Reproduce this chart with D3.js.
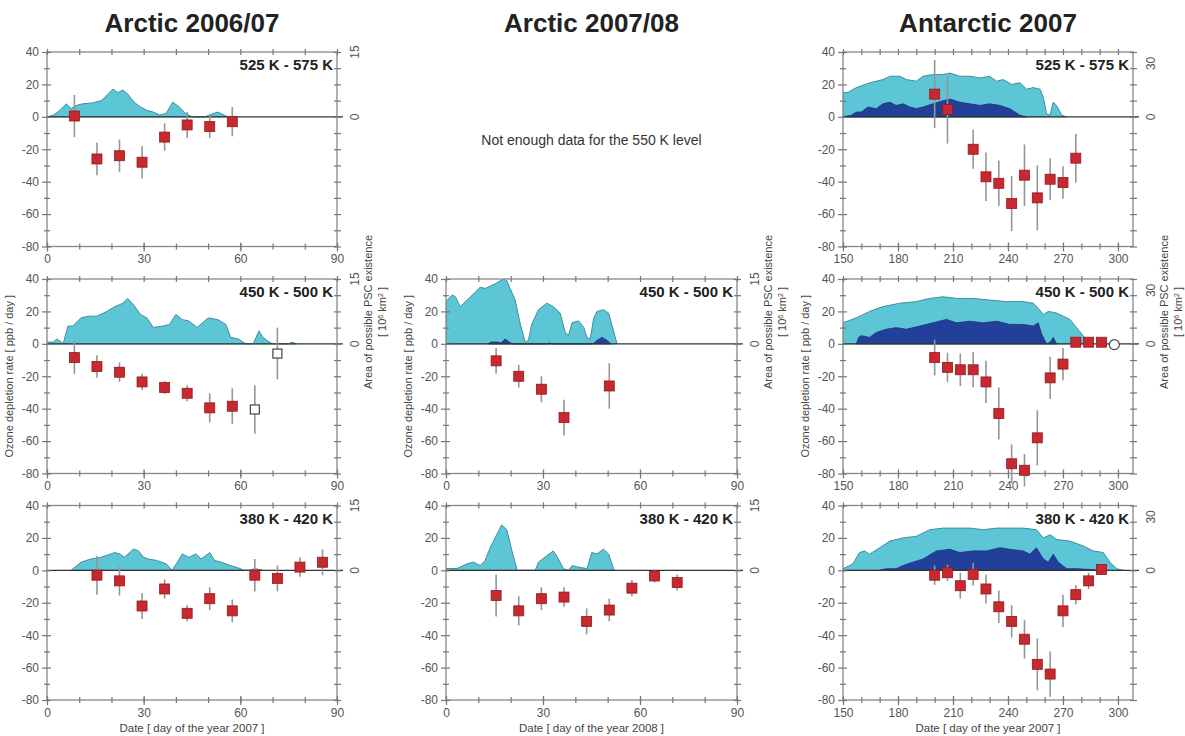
<!DOCTYPE html>
<html>
<head>
<meta charset="utf-8">
<script src="https://cdn.jsdelivr.net/npm/d3@7"></script>
<style>
  body { margin: 0; background: #fff; }
  svg text { font-family: "Liberation Sans", Arial, sans-serif; }
</style>
</head>
<body>
<svg id="chart" width="1185" height="736"></svg>
<script>
// PSC area [10^6 km²] as [day, area]
const arc0607_525_psc = [[0,0],[2,0.4],[4,1.5],[6,3.0],[7.5,1.9],[9,2.6],[11,3.0],[14,3.2],[17,3.8],[19,5.3],[20.5,6.4],[22,5.6],[23.5,6.2],[25,5.3],[27,3.4],[29,2.3],[31,1.5],[33,1.1],[35,0.4],[37,0.8],[39,3.4],[41,2.3],[43,0.8],[45,0],[49,0],[51,0.6],[53,1.1],[55,0.4],[56,0]];
const arc0607_450_psc = [[0,0.4],[2,0.4],[3,1.1],[4.5,0.4],[5,0],[6.5,4.1],[8,4.1],[10.5,6.0],[13,6.4],[15.5,6.4],[18.6,7.5],[21,8.6],[23.6,9.4],[25,10.5],[26.9,9.0],[29,6.8],[31,6.0],[33,3.8],[36,4.1],[38,4.5],[40,6.8],[42,5.6],[44,5.3],[46.6,3.8],[50,6.0],[53,5.6],[55.5,4.5],[57,1.5],[59.5,1.1],[61.6,0],[64,0],[65.8,3.0],[67,1.5],[69,0.4],[70,0],[75,0],[76,0.4],[77.5,0]];
const arc0607_380_psc = [[7.5,0],[10.6,1.9],[13.5,2.6],[16.7,3.0],[19.8,3.8],[21,4.1],[22.7,3.8],[24,3.0],[26.8,4.9],[28.4,4.5],[30,3.0],[31.5,2.6],[34,2.3],[37,1.5],[38.8,0],[40.5,1.9],[42,3.8],[44,3.0],[46.3,3.8],[47.8,2.6],[50.5,4.1],[52,2.3],[54,1.9],[57,1.1],[60,0.4],[61,0],[63,0],[64.5,0.4],[67,0]];

const arc0708_450_psc = [[0,9.8],[1.9,11.3],[2.9,10.9],[4.4,8.6],[6.5,10.1],[10.6,13.1],[12.1,12.8],[15.2,13.9],[17.8,15],[18.8,14.6],[21.4,10.1],[23,4.5],[24.5,0.4],[25.5,0.8],[26.5,4.5],[28.6,7.9],[31.2,9.4],[33.2,8.6],[35.3,7.1],[36.9,2.6],[37.9,1.9],[39,4.9],[41,5.3],[42.6,3.8],[43.6,1.5],[44.6,1.1],[45.7,6.0],[46.7,7.5],[48.7,7.9],[50.3,7.1],[51.8,3.0],[52.9,0]];
const arc0708_450_dark = [[13,0],[14,0.4],[16,0.4],[17,0.2],[18.3,1.1],[19.5,0.4],[20.5,0],[31,0],[32,0.2],[33,0],[45.5,0],[46.7,0.8],[48.2,1.5],[49.8,0.8],[51,0]];
const arc0708_380_psc = [[0,0.4],[3.4,0.4],[6.5,1.5],[8.5,1.9],[10.6,1.1],[12.1,2.3],[13.7,5.3],[15.7,8.3],[17.2,10.5],[18.8,9.4],[20.4,4.5],[22,0],[27.6,0],[28.6,1.9],[31.2,3.4],[33.2,4.5],[34.8,2.6],[36.3,0.4],[37.9,0],[39,1.1],[40.5,0.8],[43.6,0.4],[45.1,4.1],[46.7,3.8],[48.7,4.9],[50.3,3.8],[51.8,0.4],[52.3,0]];

const ant07_525_psc = [[150,13.5],[152.7,13.7],[157.3,16.4],[164.5,19.1],[171.8,20.9],[175.5,22.8],[181,22.8],[184.6,20.9],[190,20.0],[193.7,22.8],[199.1,23.7],[204.6,23.7],[208.3,24.6],[213.7,22.8],[219.2,22.8],[224.6,21.8],[230,22.8],[233.8,20.0],[237.4,20.9],[242,18.2],[246.5,19.1],[250.2,15.5],[253.8,16.4],[257.5,15.5],[259.3,10.9],[261,1.8],[262.9,0.9],[264.7,8.2],[266.5,6.4],[269.3,0.9],[272,0]];
const ant07_525_dark = [[150,0],[154.5,0.9],[157.3,2.7],[160,2.7],[163.6,5.5],[168.2,4.6],[171.8,7.3],[175.5,8.2],[179,6.4],[182.7,7.3],[186.4,5.5],[190,4.6],[193.7,5.5],[199.1,7.3],[204.6,9.1],[208.3,10.0],[213.7,8.2],[219.2,7.3],[224.6,6.4],[230,7.3],[235.6,6.4],[241,4.6],[246.5,0.9],[250.2,0]];
const ant07_450_psc = [[150,11.8],[157.3,14.6],[164.5,18.2],[171.8,20.9],[181,22.8],[190,23.7],[197.3,25.5],[204.6,26.4],[212,25.5],[221,25.5],[230,24.6],[239.2,23.7],[248.3,23.7],[253.8,22.8],[256.5,20.0],[259.3,16.4],[262,18.2],[266.5,17.3],[270.2,15.5],[273.8,13.7],[277.4,9.1],[281,4.6],[283.8,0.9],[285.7,0]];
const ant07_450_dark = [[157.3,0],[158.5,3.6],[160,4.6],[164.5,3.6],[168.2,6.4],[173.6,8.2],[179,9.1],[184.6,8.2],[191.9,10.0],[199.1,11.8],[206.4,13.7],[212,11.8],[219.2,12.7],[226.5,11.8],[233.8,12.7],[241,10.9],[248.3,10.9],[253.8,10.0],[256.5,11.8],[258.4,5.5],[261,0],[263,0.9],[264.7,3.6],[266.5,0]];
const ant07_380_psc = [[150,0.9],[155.4,3.6],[159,10.0],[161.8,10.9],[164.5,9.1],[170,12.7],[175.5,16.4],[182.7,18.2],[190,19.1],[197.3,22.8],[204.6,23.7],[212,23.7],[219.2,23.7],[226.5,22.8],[233.8,23.7],[241,23.7],[248.3,23.7],[255.5,22.8],[259.3,18.2],[263,20.0],[266.5,17.3],[273.8,16.4],[281,13.7],[286.5,10.9],[292,10.0],[295.6,4.6],[299.3,0.9],[302.9,0]];
const ant07_380_dark = [[170,0],[173.6,0.9],[179,0.9],[182.7,2.7],[188.2,4.6],[193.7,6.4],[201,10.9],[208.3,11.8],[213.7,10.0],[221,10.9],[228.3,10.9],[235.6,12.7],[241,11.8],[248.3,10.9],[252,9.1],[255.5,12.7],[259.3,6.4],[262,4.6],[264.7,9.1],[267.5,4.6],[272,0.9],[277.4,0.9],[284.7,0.5],[288.3,0]];

// Ozone depletion rates as [day, rate ppb/day, error]
const arc0607_525_rate = [[8.5,0.5,13],[15.5,-26,10],[22.5,-24,10],[29.5,-28,10],[36.5,-12.5,8.5],[43.5,-5,8],[50.5,-6,7],[57.5,-3,9]];
const arc0607_450_rate = [[8.5,-8.5,10],[15.5,-14,7],[22.5,-17.5,6],[29.5,-23.5,5],[36.5,-27,4],[43.5,-30.5,5],[50.5,-39.5,9],[57.5,-38.5,11]];
const arc0607_450_open = [[64.5,-40.5,15],[71.5,-6,16]];
const arc0607_380_rate = [[15.5,-3,12],[22.5,-6.5,9],[29.5,-22,8],[36.5,-11.5,6],[43.5,-26.5,5],[50.5,-17.5,7],[57.5,-25,7],[64.5,-3,10],[71.5,-5,8],[78.5,2,6],[85.5,5,8]];
const arc0708_450_rate = [[15.5,-10.5,8],[22.5,-20,7],[29.5,-28,8],[36.5,-45.5,11],[50.5,-26,14]];
const arc0708_380_rate = [[15.5,-15.5,13],[22.5,-25,9],[29.5,-17.5,7],[36.5,-16.5,6],[43.5,-31.5,8],[50.5,-24.5,7],[57.5,-11,5],[64.5,-3.5,4],[71.5,-7.5,5]];
const ant07_525_rate = [[200,14,21],[207,4.5,21],[221,-20,12],[228,-37,15],[235,-41,14],[242,-53.5,17],[249,-36,19],[256,-50,20],[263,-38.5,13],[270,-40.5,10],[277,-25.5,15]];
const ant07_450_rate = [[200,-8.5,11],[207,-14.5,9],[214,-16,10],[221,-16,11],[228,-23.5,13],[235,-43,16],[242,-74,12],[249,-78,10],[256,-58,17],[263,-21,13],[270,-12.5,10],[277,1,2],[284,1,2],[291,1,2]];
const ant07_450_open = [[298,-0.5,2]];
const ant07_380_rate = [[200,-3,6],[207,-1.5,5],[214,-9.5,8],[221,-2.5,7],[228,-11.5,9],[235,-22.5,10],[242,-31.5,10],[249,-42.5,12],[256,-58,16],[263,-64,14],[270,-25,10],[277,-15,6],[284,-6.5,5],[291,0.5,3]];

// axis ticks and labels
const rateMajor = [-80, -60, -40, -20, 0, 20, 40];
const rateMinor = [-70, -50, -30, -10, 10, 30];
const colTitles = ['Arctic 2006/07', 'Arctic 2007/08', 'Antarctic 2007'];
const dateTitles = ['Date [ day of the year 2007 ]', 'Date [ day of the year 2008 ]', 'Date [ day of the year 2007 ]'];
const levelNames = ['525 K - 575 K', '450 K - 500 K', '380 K - 420 K'];
const arcticDayTicks = [0, 30, 60, 90];
const antarcticDayTicks = [150, 180, 210, 240, 270, 300];

const LIGHT = '#5cc6d7', LIGHT_EDGE = '#3f8e9c', DARK = '#22409a', RED = '#c8282e';

const svg = d3.select('#chart');

const cols = [
  { x0: 47,  x1: 337,  domain: [0, 90],      major: arcticDayTicks,    minor: d3.range(0, 91, 10),    pscMax: 15,   pscLabels: [0, 15] },
  { x0: 446, x1: 737,  domain: [0, 90],      major: arcticDayTicks,    minor: d3.range(0, 91, 10),    pscMax: 15,   pscLabels: [0, 15] },
  { x0: 843, x1: 1133, domain: [150, 308.2], major: antarcticDayTicks, minor: d3.range(150, 301, 10), pscMax: 36.4, pscLabels: [0, 30] }
];
const rowTops = [52, 279, 505.5];
const ph = 194.5;

const panels = [
  { col: 0, row: 0, light: arc0607_525_psc, dark: null, rate: arc0607_525_rate, open: [] },
  { col: 0, row: 1, light: arc0607_450_psc, dark: null, rate: arc0607_450_rate, open: arc0607_450_open, openShape: 'square' },
  { col: 0, row: 2, light: arc0607_380_psc, dark: null, rate: arc0607_380_rate, open: [] },
  { col: 1, row: 1, light: arc0708_450_psc, dark: arc0708_450_dark, rate: arc0708_450_rate, open: [] },
  { col: 1, row: 2, light: arc0708_380_psc, dark: null, rate: arc0708_380_rate, open: [] },
  { col: 2, row: 0, light: ant07_525_psc, dark: ant07_525_dark, rate: ant07_525_rate, open: [] },
  { col: 2, row: 1, light: ant07_450_psc, dark: ant07_450_dark, rate: ant07_450_rate, open: ant07_450_open, openShape: 'circle' },
  { col: 2, row: 2, light: ant07_380_psc, dark: ant07_380_dark, rate: ant07_380_rate, open: [] }
];

// tick helper: outward + inward ticks crossing the frame line
function tickAxis(g, axisFn, scale, values, outer, inner, labels) {
  const a = g.append('g');
  a.call(axisFn(scale).tickValues(values).tickSize(outer).tickSizeOuter(0)
    .tickFormat(labels ? d => String(d) : ''));
  const b = g.append('g');
  b.call(axisFn(scale).tickValues(values).tickSize(-inner).tickSizeOuter(0).tickFormat(''));
  [a, b].forEach(s => {
    s.select('.domain').remove();
    s.selectAll('line').attr('stroke', '#777').attr('stroke-width', 1.2);
    s.selectAll('text').attr('fill', '#555').style('font-size', '12px');
  });
  return a;
}

function drawPanel(p, i) {
  const c = cols[p.col];
  const top = rowTops[p.row];
  const x = d3.scaleLinear().domain(c.domain).range([c.x0, c.x1]);
  const y = d3.scaleLinear().domain([-80, 40]).range([top + ph, top]);
  const y2 = d3.scaleLinear().domain([0, c.pscMax]).range([y(0), y(40)]);

  const g = svg.append('g');
  const clipId = 'clip' + i;
  g.append('clipPath').attr('id', clipId).append('rect')
    .attr('x', c.x0).attr('y', top).attr('width', c.x1 - c.x0).attr('height', ph);

  const area = d3.area().x(d => x(d[0])).y0(y2(0)).y1(d => y2(d[1]));
  const plot = g.append('g').attr('clip-path', `url(#${clipId})`);
  plot.append('path').datum(p.light).attr('d', area)
    .attr('fill', LIGHT).attr('stroke', LIGHT_EDGE).attr('stroke-width', 1);
  if (p.dark) {
    plot.append('path').datum(p.dark).attr('d', area)
      .attr('fill', DARK).attr('stroke', '#1a2f78').attr('stroke-width', 0.8);
  }

  // zero line
  g.append('line').attr('x1', c.x0).attr('x2', c.x1 + 6)
    .attr('y1', y(0)).attr('y2', y(0)).attr('stroke', '#333').attr('stroke-width', 1.1);

  // frame
  g.append('rect').attr('x', c.x0).attr('y', top).attr('width', c.x1 - c.x0).attr('height', ph)
    .attr('fill', 'none').attr('stroke', '#888').attr('stroke-width', 1.3);

  // axes
  tickAxis(g.append('g').attr('transform', `translate(${c.x0},0)`), d3.axisLeft, y, rateMajor, 5, 4, true);
  tickAxis(g.append('g').attr('transform', `translate(${c.x0},0)`), d3.axisLeft, y, rateMinor, 3, 3, false);
  tickAxis(g.append('g').attr('transform', `translate(${c.x1},0)`), d3.axisRight, y, rateMajor.concat(rateMinor), 4, 3, false);
  tickAxis(g.append('g').attr('transform', `translate(0,${top + ph})`), d3.axisBottom, x, c.major, 5, 4, true);
  tickAxis(g.append('g').attr('transform', `translate(0,${top + ph})`), d3.axisBottom, x, c.minor, 3, 3, false);
  tickAxis(g.append('g').attr('transform', `translate(0,${top})`), d3.axisTop, x, c.minor, 3, 3, false);

  // right axis labels (rotated)
  c.pscLabels.forEach(v => {
    g.append('text')
      .attr('transform', `translate(${c.x1 + 18},${y2(v)}) rotate(-90)`)
      .attr('text-anchor', 'middle').attr('dy', '0.35em')
      .attr('fill', '#555').style('font-size', '12px').text(v);
  });

  // error bars and markers
  const pts = g.append('g');
  pts.selectAll('line.err').data(p.rate.concat(p.open)).join('line')
    .attr('x1', d => x(d[0])).attr('x2', d => x(d[0]))
    .attr('y1', d => y(d[1] - d[2])).attr('y2', d => y(d[1] + d[2]))
    .attr('stroke', '#959595').attr('stroke-width', 1.6);
  pts.selectAll('rect.pt').data(p.rate).join('rect')
    .attr('x', d => x(d[0]) - 5).attr('y', d => y(d[1]) - 5)
    .attr('width', 10).attr('height', 10)
    .attr('fill', RED).attr('stroke', '#8e1b20').attr('stroke-width', 0.8);
  if (p.openShape === 'square') {
    pts.selectAll('rect.open').data(p.open).join('rect')
      .attr('x', d => x(d[0]) - 4.5).attr('y', d => y(d[1]) - 4.5)
      .attr('width', 9).attr('height', 9)
      .attr('fill', '#fff').attr('stroke', '#444').attr('stroke-width', 1.2);
  } else if (p.openShape === 'circle') {
    pts.selectAll('circle.open').data(p.open).join('circle')
      .attr('cx', d => x(d[0])).attr('cy', d => y(d[1])).attr('r', 5)
      .attr('fill', '#fff').attr('stroke', '#444').attr('stroke-width', 1.2);
  }

  // level label
  g.append('text').attr('x', c.x1 - 4).attr('y', top + 18)
    .attr('text-anchor', 'end').attr('fill', '#222')
    .style('font-size', '15px').style('font-weight', 'bold')
    .text(levelNames[p.row]);

  // axis titles in middle row
  if (p.row === 1) {
    g.append('text')
      .attr('transform', `translate(${c.x0 - 34},${top + ph / 2}) rotate(-90)`)
      .attr('text-anchor', 'middle').attr('fill', '#444').style('font-size', '11px')
      .text('Ozone depletion rate [ ppb / day ]');
    g.append('text')
      .attr('transform', `translate(${c.x1 + 31},${top + 33}) rotate(-90)`)
      .attr('text-anchor', 'middle').attr('dy', '0.35em').attr('fill', '#444').style('font-size', '11px')
      .text('Area of possible PSC existence');
    const t2 = g.append('text')
      .attr('transform', `translate(${c.x1 + 45},${top + 33}) rotate(-90)`)
      .attr('text-anchor', 'middle').attr('dy', '0.35em').attr('fill', '#444').style('font-size', '11px');
    t2.append('tspan').text('[ 10');
    t2.append('tspan').attr('baseline-shift', 'super').style('font-size', '7px').text('6');
    t2.append('tspan').text(' km');
    t2.append('tspan').attr('baseline-shift', 'super').style('font-size', '7px').text('2');
    t2.append('tspan').text(' ]');
  }

  // date title under bottom row
  if (p.row === 2) {
    g.append('text').attr('x', (c.x0 + c.x1) / 2).attr('y', 732)
      .attr('text-anchor', 'middle').attr('fill', '#444').style('font-size', '11.5px')
      .text(dateTitles[p.col]);
  }
}

panels.forEach(drawPanel);

// column titles
cols.forEach((c, i) => {
  svg.append('text').attr('x', (c.x0 + c.x1) / 2 + (i === 0 ? 0 : 0)).attr('y', 32)
    .attr('text-anchor', 'middle').attr('fill', '#222')
    .style('font-size', '26px').style('font-weight', 'bold')
    .text(colTitles[i]);
});

// missing panel note
svg.append('text').attr('x', (cols[1].x0 + cols[1].x1) / 2).attr('y', 145)
  .attr('text-anchor', 'middle').attr('fill', '#333').style('font-size', '14px')
  .text('Not enough data for the 550 K level');
</script>
</body>
</html>
